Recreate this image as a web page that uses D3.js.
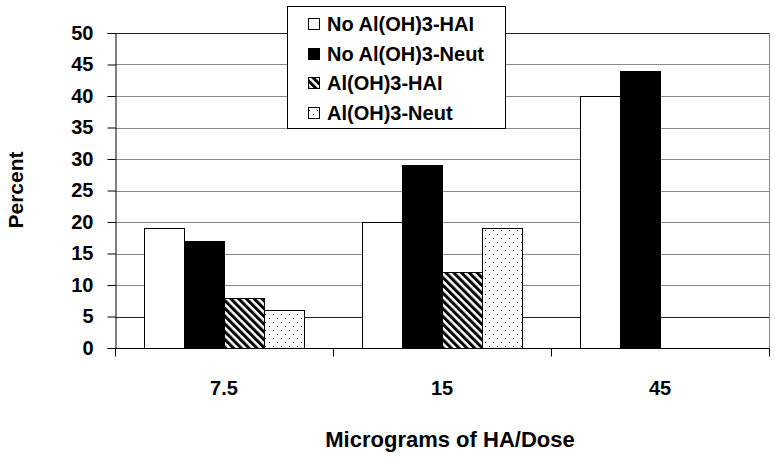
<!DOCTYPE html>
<html>
<head>
<meta charset="utf-8">
<script src="https://cdn.jsdelivr.net/npm/d3@7"></script>
<style>
  body { margin: 0; background: #fff; }
  text { font-family: Arial, "Liberation Sans", sans-serif; font-weight: bold; }
</style>
</head>
<body>
<div class="container"></div>
<script>
var width = 775;
var height = 457;
var padding = {top: 33, bottom: 109, left: 115, right: 6};

// data
var doses = ["7.5", "15", "45"];
var seriesNames = ["No Al(OH)3-HAI", "No Al(OH)3-Neut", "Al(OH)3-HAI", "Al(OH)3-Neut"];
var noAlHAI = [19, 20, 40];
var noAlNeut = [17, 29, 44];
var alHAI = [8, 12, null];
var alNeut = [6, 19, null];
var yTicks = [0, 5, 10, 15, 20, 25, 30, 35, 40, 45, 50];

var seriesValues = [noAlHAI, noAlNeut, alHAI, alNeut];
var fills = ["#fff", "#000", "url(#hatch)", "url(#dots)"];

var svg = d3.select(".container").append("svg")
  .attr("width", width)
  .attr("height", height);

// patterns for the two Al(OH)3 series
var defs = svg.append("defs");
var hatch = defs.append("pattern")
  .attr("id", "hatch")
  .attr("patternUnits", "userSpaceOnUse")
  .attr("width", 5.5).attr("height", 5.5)
  .attr("patternTransform", "rotate(-45)");
hatch.append("rect").attr("width", 5.5).attr("height", 5.5).attr("fill", "#fff");
hatch.append("rect").attr("width", 3).attr("height", 5.5).attr("fill", "#000");

var dots = defs.append("pattern")
  .attr("id", "dots")
  .attr("patternUnits", "userSpaceOnUse")
  .attr("width", 8).attr("height", 8);
dots.append("rect").attr("width", 8).attr("height", 8).attr("fill", "#fff");
dots.append("rect").attr("x", 1).attr("y", 2).attr("width", 1).attr("height", 1).attr("fill", "#000");
dots.append("rect").attr("x", 5).attr("y", 6).attr("width", 1).attr("height", 1).attr("fill", "#000");

var x0 = d3.scaleBand().domain(doses).range([padding.left, width - padding.right]).padding(0);
var x1 = d3.scaleBand().domain(seriesNames).range([0, x0.bandwidth()]).paddingInner(0).paddingOuter(0.725);
var yScale = d3.scaleLinear().domain([0, 50]).range([height - padding.bottom, padding.top]);

// gridlines
svg.append("g").selectAll("line")
  .data(yTicks.filter(function (d) { return d > 0; }))
  .enter().append("line")
  .attr("x1", padding.left)
  .attr("x2", width - padding.right)
  .attr("y1", function (d) { return Math.round(yScale(d)) + 0.5; })
  .attr("y2", function (d) { return Math.round(yScale(d)) + 0.5; })
  .style("stroke", function (d) { return (d === 5 || d === 50) ? "#222" : "#8a8a8a"; })
  .style("stroke-width", 1);

// right border of plot
svg.append("line")
  .attr("x1", width - padding.right + 0.5).attr("x2", width - padding.right + 0.5)
  .attr("y1", padding.top).attr("y2", height - padding.bottom)
  .style("stroke", "#8a8a8a");

// bars
seriesNames.forEach(function (name, s) {
  svg.append("g").selectAll("rect")
    .data(seriesValues[s].map(function (v, i) { return {dose: doses[i], v: v}; })
      .filter(function (d) { return d.v !== null; }))
    .enter().append("rect")
    .attr("x", function (d) { return Math.round(x0(d.dose) + x1(name)) + 0.5; })
    .attr("y", function (d) { return Math.round(yScale(d.v)) + 0.5; })
    .attr("width", Math.round(x1.bandwidth()))
    .attr("height", function (d) { return Math.round(yScale(0)) - Math.round(yScale(d.v)); })
    .attr("fill", fills[s])
    .style("stroke", "#000")
    .style("stroke-width", 1);
});

// axes
var axisY = d3.axisLeft(yScale).tickValues(yTicks).tickSize(8).tickPadding(14);
var gy = svg.append("g")
  .attr("transform", "translate(" + (padding.left + 0.5) + ",0)")
  .call(axisY);
gy.selectAll("text").style("font-size", "20px").attr("fill", "#000");

var axisX = d3.axisBottom(x0).tickValues([]).tickSize(0);
var gx = svg.append("g")
  .attr("transform", "translate(0," + (Math.round(yScale(0)) + 0.5) + ")")
  .call(axisX);
gx.select(".domain").attr("d", "M" + padding.left + ",0H" + (width - padding.right + 0.5));

// tick marks between the groups
var bounds = doses.map(function (d) { return x0(d); }).concat([width - padding.right]);
gx.selectAll("line.bound")
  .data(bounds)
  .enter().append("line")
  .attr("class", "bound")
  .attr("x1", function (d) { return Math.round(d) + 0.5; })
  .attr("x2", function (d) { return Math.round(d) + 0.5; })
  .attr("y1", 0).attr("y2", 8)
  .style("stroke", "#000");

gx.selectAll("text.dose")
  .data(doses)
  .enter().append("text")
  .attr("class", "dose")
  .attr("x", function (d) { return x0(d) + x0.bandwidth() / 2; })
  .attr("y", 46)
  .attr("fill", "#000")
  .style("text-anchor", "middle")
  .style("font-size", "20px")
  .text(function (d) { return d; });

// axis titles
svg.append("text")
  .attr("x", 450)
  .attr("y", 447)
  .style("text-anchor", "middle")
  .style("font-size", "22px")
  .text("Micrograms of HA/Dose");

svg.append("text")
  .attr("transform", "translate(23,190) rotate(-90)")
  .style("text-anchor", "middle")
  .style("font-size", "21px")
  .text("Percent");

// legend
var legend = svg.append("g");
legend.append("rect")
  .attr("x", 287.5).attr("y", 6.5)
  .attr("width", 218).attr("height", 122)
  .attr("fill", "#fff")
  .style("stroke", "#000");

seriesNames.forEach(function (name, i) {
  var cy = 24 + i * 29.5;
  legend.append("rect")
    .attr("x", 308.5).attr("y", Math.round(cy - 6) + 0.5)
    .attr("width", 11).attr("height", 11)
    .attr("fill", fills[i])
    .style("stroke", "#000");
  legend.append("text")
    .attr("x", 327)
    .attr("y", cy)
    .attr("dy", "0.36em")
    .style("font-size", "20px")
    .text(name);
});
</script>
</body>
</html>
